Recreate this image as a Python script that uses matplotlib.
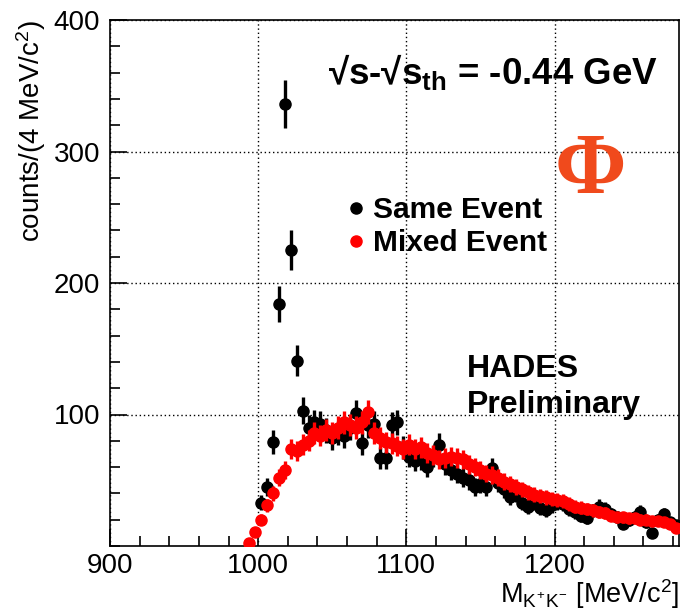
import numpy as np
import matplotlib
matplotlib.use("Agg")
from matplotlib import pyplot as plt
from matplotlib.lines import Line2D

plt.rcParams['font.family'] = ['Liberation Sans', 'DejaVu Sans']
plt.rcParams['mathtext.fontset'] = 'custom'
plt.rcParams['mathtext.rm'] = 'Liberation Sans'
plt.rcParams['mathtext.it'] = 'Liberation Sans'
plt.rcParams['mathtext.bf'] = 'Liberation Sans:bold'

# same event, 4 MeV bins starting at 1002
same_x0 = 1002
same_counts = [33, 45, 79, 184, 336, 225, 141, 103, 90, 94,
               93, 88, 82, 86, 84, 90, 101, 78, 92, 93,
               67, 67, 92, 94, 75, 68, 65, 66, 60, 68,
               77, 62, 58, 55, 52, 50, 45, 47, 45, 59,
               48, 43, 37, 40, 33, 30, 33, 29, 27, 31,
               33, 32, 28, 26, 23, 21, 27, 30, 28, 24,
               22, 17, 20, 22, 26, 18, 10, 20, 24, 18, 16]

# mixed event, 4 MeV bins starting at 994
mixed_x0 = 994
mixed_counts = [2, 11, 20, 31, 40, 52, 58, 74, 72, 77,
                80, 86, 84, 88, 86, 90, 94, 92, 90, 94,
                102, 86, 82, 79, 78, 76, 74, 77, 74, 75,
                71, 69, 66, 67, 68, 67, 66, 62, 60, 58,
                55, 54, 52, 49, 47, 45, 43, 41, 39, 38,
                37, 36, 35, 34, 32, 30, 29, 28, 27, 26,
                25, 23, 22, 22, 21, 21, 20, 20, 19, 19, 18, 17, 14]

bin_width = 4
same_x = same_x0 + bin_width * np.arange(len(same_counts))
mixed_x = mixed_x0 + bin_width * np.arange(len(mixed_counts))
same_y = np.array(same_counts, dtype=float)
mixed_y = np.array(mixed_counts, dtype=float)

fig = plt.figure(figsize=(6.89, 6.15), dpi=100)
ax = fig.add_axes([110 / 689, 69 / 615, 569 / 689, 526 / 615])

ax.errorbar(same_x, same_y, yerr=np.sqrt(same_y), fmt="o", color="black",
            ms=8, elinewidth=2.4, capsize=0, zorder=3)
ax.errorbar(mixed_x, mixed_y, yerr=0.9 * np.sqrt(mixed_y), fmt="o", color="red",
            ms=8, elinewidth=2.4, capsize=0, zorder=4)

ax.set_xlim(900, 1284)
ax.set_ylim(0, 400)
ax.set_xticks([900, 1000, 1100, 1200])
ax.set_xticks(np.arange(900, 1284, 20), minor=True)
ax.set_yticks([100, 200, 300, 400])
ax.set_yticks(np.arange(0, 401, 20), minor=True)
ax.tick_params(which="both", direction="in", top=False, right=False,
               labelsize=20, width=1.2, pad=7)
ax.tick_params(axis="x", which="both", pad=5)
ax.tick_params(which="major", length=12)
ax.tick_params(which="minor", length=7)
for s in ax.spines.values():
    s.set_linewidth(1.2)

ax.grid(True, which="major", linestyle=(0, (1, 2)), color="black", linewidth=1.0)

ax.set_ylabel("counts/(4 MeV/c$^2$)", fontsize=20, loc="top", labelpad=4)
ax.set_xlabel("M$_{K^{+}K^{-}}$ [MeV/c$^2$]", fontsize=19.5, loc="right", labelpad=-1)

ax.text(0.673, 0.901, "√s-√s$_{\\mathbf{th}}$ = -0.44 GeV",
        transform=ax.transAxes, ha="center", va="center",
        fontsize=26.5, fontweight="bold")
ax.text(0.844, 0.711, "Φ", transform=ax.transAxes, ha="center", va="center",
        fontsize=62, fontweight="bold", color="#f04a1c", family="Liberation Serif")
ax.text(0.627, 0.302, "HADES\nPreliminary", transform=ax.transAxes,
        ha="left", va="center", fontsize=23, fontweight="bold", linespacing=1.25)

handles = [Line2D([], [], marker="o", ls="", color="black", ms=8),
           Line2D([], [], marker="o", ls="", color="red", ms=8)]
ax.legend(handles, ["Same Event", "Mixed Event"], loc="center left",
          bbox_to_anchor=(0.412, 0.607), frameon=False, handletextpad=0.15,
          handlelength=0.8, labelspacing=0.18, borderpad=0, borderaxespad=0,
          prop={"size": 21.5, "weight": "bold"})

fig.savefig("out.png", dpi=100)
